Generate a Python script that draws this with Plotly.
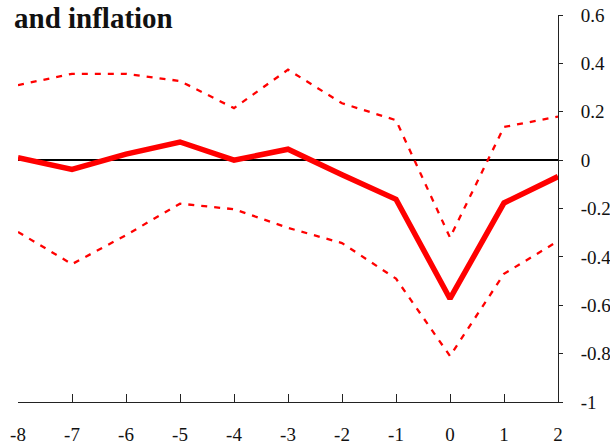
import plotly.graph_objects as go

periods = [-8, -7, -6, -5, -4, -3, -2, -1, 0, 1, 2]
response = [0.01, -0.038, 0.025, 0.075, 0.0, 0.045, -0.06, -0.162, -0.573, -0.177, -0.068]
upper_band = [0.31, 0.357, 0.357, 0.327, 0.215, 0.374, 0.235, 0.165, -0.32, 0.137, 0.18]
lower_band = [-0.297, -0.43, -0.31, -0.18, -0.203, -0.28, -0.343, -0.49, -0.81, -0.47, -0.335]

y_tickvals = [0.6, 0.4, 0.2, 0, -0.2, -0.4, -0.6, -0.8, -1]
y_ticktext = ["0.6", "0.4", "0.2", "0", "-0.2", "-0.4", "-0.6", "-0.8", "-1"]
x_ticktext = [str(p) for p in periods]

title_text = "and inflation"
font_family = "Liberation Serif"

fig = go.Figure()
fig.add_trace(go.Scatter(x=periods, y=upper_band, mode="lines",
                         line=dict(color="#ff0000", width=2.3, dash="6px,7px"),
                         showlegend=False, hoverinfo="skip"))
fig.add_trace(go.Scatter(x=periods, y=lower_band, mode="lines",
                         line=dict(color="#ff0000", width=2.3, dash="6px,7px"),
                         showlegend=False, hoverinfo="skip"))
fig.add_trace(go.Scatter(x=periods, y=response, mode="lines",
                         line=dict(color="#ff0000", width=5.5),
                         showlegend=False))

fig.update_layout(
    width=610, height=446,
    margin=dict(l=18, r=52, t=15, b=44, autoexpand=False),
    paper_bgcolor="white", plot_bgcolor="white",
    font=dict(family=font_family, size=19, color="#111111"),
    title=dict(text="<b>" + title_text + "</b>", xref="container", yref="container",
               x=14 / 610, xanchor="left", y=1 - 8 / 446, yanchor="top",
               font=dict(family=font_family, size=29, color="#111111")),
    xaxis=dict(range=[-8, 2], tickvals=periods, ticktext=x_ticktext, automargin=False,
               showgrid=False, zeroline=False, showline=True, linecolor="#222222",
               linewidth=1, ticks="inside", ticklen=8, tickcolor="#222222",
               ticklabelstandoff=15, mirror=False,
               tickfont=dict(family=font_family, size=19)),
    yaxis=dict(range=[-1, 0.6], side="right", tickvals=y_tickvals, ticktext=y_ticktext,
               automargin=False,
               showgrid=False, zeroline=True, zerolinecolor="#000000", zerolinewidth=2,
               showline=True, linecolor="#222222", linewidth=1, ticks="outside",
               ticklen=4, tickcolor="#222222", ticklabelstandoff=14,
               tickfont=dict(family=font_family, size=19)),
)

fig.write_html("out.html", config={"displayModeBar": False},
               post_script="document.body.style.margin='0';document.body.style.overflow='hidden';")
